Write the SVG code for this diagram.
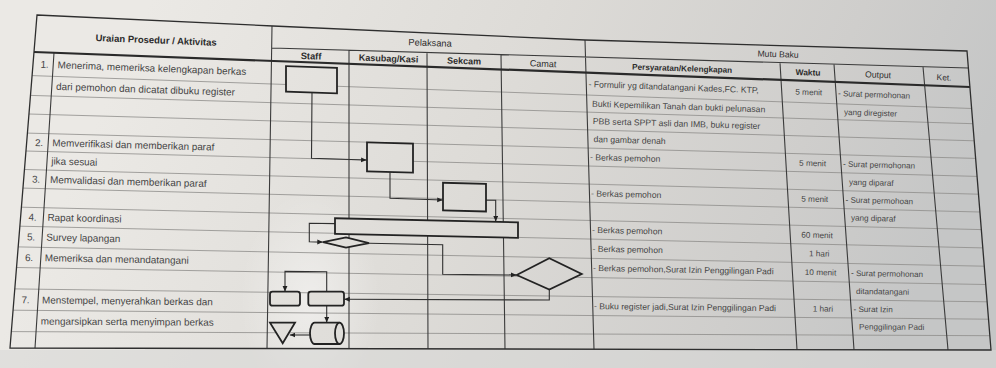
<svg xmlns="http://www.w3.org/2000/svg" width="996" height="368" viewBox="0 0 996 368">
<defs>
<linearGradient id="paper" gradientUnits="userSpaceOnUse" x1="150" y1="0" x2="900" y2="330">
<stop offset="0" stop-color="#ebe9e5"/>
<stop offset="0.45" stop-color="#dddbd7"/>
<stop offset="0.8" stop-color="#cfcecc"/>
<stop offset="1" stop-color="#c5c6c6"/>
</linearGradient>
<radialGradient id="glare" cx="0.5" cy="0.5" r="0.5">
<stop offset="0" stop-color="#ffffff" stop-opacity="0.45"/>
<stop offset="1" stop-color="#ffffff" stop-opacity="0"/>
</radialGradient>
<marker id="ah" viewBox="0 0 8 8" refX="8" refY="4" markerWidth="5.5" markerHeight="5.5" markerUnits="userSpaceOnUse" orient="auto">
<path d="M0,0.5 L8,4 L0,7.5 z" fill="#222"/>
</marker>
<style>
.grid{fill:none;stroke:#8e8d8a;stroke-width:0.8}
.col{fill:none;stroke:#3b3b3b;stroke-width:1.1}
.border{fill:none;stroke:#2e2e2e;stroke-width:1.3}
.thick{fill:none;stroke:#2a2a2a;stroke-width:2.2}
.node{fill:url(#paper);stroke:#232323;stroke-width:1.8}
.conn{fill:none;stroke:#303030;stroke-width:1.1;marker-end:url(#ah)}
text{font-family:"Liberation Sans",Arial,sans-serif;fill:#454545}
.h{fill:#2c2c2c}
.b{font-weight:bold}
.m{text-anchor:middle}
.l{font-size:9.9px}
.r{font-size:8.6px}
.w{font-size:8.2px;text-anchor:middle}
.o{font-size:8.1px}
</style>
</defs>

<g id="background">
<rect x="0" y="0" width="996" height="368" fill="url(#paper)"/>
<ellipse cx="310" cy="300" rx="70" ry="110" fill="url(#glare)"/>
<rect x="0" y="350" width="996" height="18" fill="#d9d9d7" opacity="0.6"/>
</g>

<g id="table">
<path class="grid" d="M32,75.6 L972,108.5 M30.5,95.4 L972.8,123.7 M29,114 L974.3,140.8 M27.4,133.1 L975.6,158.4 M26,151 L977,176.4 M24.5,169.5 L978.5,194.2 M23,188.1 L980,212 M21.4,207.2 L981.4,229.6 M19.9,226.2 L982.8,247.9 M18.2,246.9 L984.3,266.2 M16.5,267.5 L985.8,284.5 M14.8,288.9 L987.2,301.8 M13.1,310.2 L988.5,319.2 M11.3,331.6 L989.9,335.7"/>
<path class="col" d="M54,52.7 L35,348.1 M272,26 L267,348.5 M349,50.2 L349,348.7 M427,52.5 L428,348.8 M501,54.6 L505,349 M585,40 L594,349.2 M780,62.6 L797,349.6 M834,64.2 L854,349.7 M923,66.7 L948,349.9 M272,48 L968.4,68"/>
<path class="thick" d="M34,52 L970,87"/>
<path class="border" d="M37,15 L273,26 L585,40 L967,51 L991,350 L10,348 Z"/>
</g>

<g id="table-text">
<text class="h b m" x="156" y="43.4" font-size="9.5" transform="rotate(2.3 156 43.4)">Uraian Prosedur / Aktivitas</text>
<text class="h m" x="430" y="46" font-size="9.3" transform="rotate(1.9 430 46)">Pelaksana</text>
<text class="h b m" x="311" y="59.3" font-size="9.3" transform="rotate(1.9 311 59.3)">Staff</text>
<text class="h b m" x="388.5" y="61.6" font-size="9" transform="rotate(1.9 388.5 61.6)">Kasubag/Kasi</text>
<text class="h b m" x="464" y="64" font-size="9" transform="rotate(1.9 464 64)">Sekcam</text>
<text class="h m" x="543" y="66.8" font-size="9" transform="rotate(1.9 543 66.8)">Camat</text>
<text class="h m" x="778" y="57.2" font-size="8.6" transform="rotate(1.6 778 57.2)">Mutu Baku</text>
<text class="h b m" x="682" y="71.2" font-size="8.2" transform="rotate(1.9 682 71.2)">Persyaratan/Kelengkapan</text>
<text class="h b m" x="808" y="75.3" font-size="8.4" transform="rotate(1.9 808 75.3)">Waktu</text>
<text class="h m" x="878" y="77.8" font-size="8.6" transform="rotate(1.9 878 77.8)">Output</text>
<text class="h m" x="944" y="80.3" font-size="8.3" transform="rotate(1.9 944 80.3)">Ket.</text>

<text class="l m" x="44.5" y="67.8" transform="rotate(2.08 44.5 67.8)">1.</text>
<text class="l m" x="39" y="146" transform="rotate(1.53 39 146)">2.</text>
<text class="l m" x="36" y="182.7" transform="rotate(1.46 36 182.7)">3.</text>
<text class="l m" x="32.5" y="220.6" transform="rotate(1.31 32.5 220.6)">4.</text>
<text class="l m" x="31" y="240.4" transform="rotate(1.22 31 240.4)">5.</text>
<text class="l m" x="29" y="261" transform="rotate(1.08 29 261)">6.</text>
<text class="l m" x="25.5" y="303.3" transform="rotate(0.65 25.5 303.3)">7.</text>

<text class="l" x="57.5" y="68.2" transform="rotate(2.08 57.5 68.2)">Menerima, memeriksa kelengkapan berkas</text>
<text class="l" x="56" y="89.8" transform="rotate(1.86 56 89.8)">dari pemohon dan dicatat dibuku register</text>
<text class="l" x="52.3" y="146.2" transform="rotate(1.53 52.3 146.2)">Memverifikasi dan memberikan paraf</text>
<text class="l" x="51.2" y="164.5" transform="rotate(1.51 51.2 164.5)">jika sesuai</text>
<text class="l" x="50" y="183" transform="rotate(1.46 50 183)">Memvalidasi dan memberikan paraf</text>
<text class="l" x="47.4" y="220.8" transform="rotate(1.31 47.4 220.8)">Rapat koordinasi</text>
<text class="l" x="46.2" y="240.6" transform="rotate(1.22 46.2 240.6)">Survey lapangan</text>
<text class="l" x="44.8" y="261.2" transform="rotate(1.08 44.8 261.2)">Memeriksa dan menandatangani</text>
<text class="l" x="42" y="303.4" transform="rotate(0.65 42 303.4)">Menstempel, menyerahkan berkas dan</text>
<text class="l" x="40.8" y="324.6" transform="rotate(0.38 40.8 324.6)">mengarsipkan serta menyimpan berkas</text>

<text class="r" x="588.5" y="87" transform="rotate(2.08 588.5 87)">- Formulir yg ditandatangani Kades,FC. KTP,</text>
<text class="r" x="592" y="106.7" transform="rotate(1.86 592 106.7)">Bukti Kepemilikan Tanah dan bukti pelunasan</text>
<text class="r" x="592.8" y="124.1" transform="rotate(1.67 592.8 124.1)">PBB serta SPPT asli dan IMB, buku register</text>
<text class="r" x="593.5" y="142.1" transform="rotate(1.58 593.5 142.1)">dan gambar denah</text>
<text class="r" x="590" y="160.1" transform="rotate(1.53 590 160.1)">- Berkas pemohon</text>
<text class="r" x="591" y="196.3" transform="rotate(1.46 591 196.3)">- Berkas pemohon</text>
<text class="r" x="592" y="232.8" transform="rotate(1.31 592 232.8)">- Berkas pemohon</text>
<text class="r" x="592.5" y="251.7" transform="rotate(1.22 592.5 251.7)">- Berkas pemohon</text>
<text class="r" x="593" y="271" transform="rotate(1.08 593 271)">- Berkas pemohon,Surat Izin Penggilingan Padi</text>
<text class="r" x="594" y="309.1" transform="rotate(0.65 594 309.1)">- Buku register jadi,Surat Izin Penggilingan Padi</text>

<text class="w" x="808.7" y="94.9" transform="rotate(2.08 808.7 94.9)">5 menit</text>
<text class="w" x="812.5" y="166" transform="rotate(1.53 812.5 166)">5 menit</text>
<text class="w" x="814.7" y="201.8" transform="rotate(1.46 814.7 201.8)">5 menit</text>
<text class="w" x="817" y="237.9" transform="rotate(1.31 817 237.9)">60 menit</text>
<text class="w" x="819.2" y="256.4" transform="rotate(1.22 819.2 256.4)">1 hari</text>
<text class="w" x="820.5" y="275.2" transform="rotate(1.08 820.5 275.2)">10 menit</text>
<text class="w" x="822.9" y="311.6" transform="rotate(0.65 822.9 311.6)">1 hari</text>

<text class="o" x="838" y="96" transform="rotate(2.08 838 96)">- Surat permohonan</text>
<text class="o" x="844" y="114.8" transform="rotate(1.86 844 114.8)">yang diregister</text>
<text class="o" x="843" y="166.7" transform="rotate(1.53 843 166.7)">- Surat permohonan</text>
<text class="o" x="849" y="184.8" transform="rotate(1.51 849 184.8)">yang diparaf</text>
<text class="o" x="845.5" y="202.6" transform="rotate(1.46 845.5 202.6)">- Surat permohoan</text>
<text class="o" x="851" y="220.5" transform="rotate(1.39 851 220.5)">yang diparaf</text>
<text class="o" x="851" y="275.8" transform="rotate(1.08 851 275.8)">- Surat permohonan</text>
<text class="o" x="856" y="294" transform="rotate(0.88 856 294)">ditandatangani</text>
<text class="o" x="853.5" y="311.9" transform="rotate(0.65 853.5 311.9)">- Surat Izin</text>
<text class="o" x="859" y="329.5" transform="rotate(0.38 859 329.5)">Penggilingan Padi</text>
</g>

<g id="connectors">
<path class="conn" d="M312,92.5 L311.5,158.3 L366.6,160"/>
<path class="conn" d="M390,172.3 L390,198.3 L442.7,200"/>
<path class="conn" d="M486,200.3 L495.7,200.3 L495.7,221.6"/>
<path class="conn" d="M335,223.6 L309.3,223.3 L309.3,241.8 L322.8,242.1"/>
<path class="conn" d="M369,243.2 L442.7,244.7 L442.7,274.2 L516.4,275"/>
<path class="conn" d="M549.3,289.5 L549.3,300 L344.3,299.2"/>
<path class="conn" d="M326.7,291.7 L326.7,271.7 L285,271.4 L285,291.5"/>
<path class="conn" d="M326.7,305.7 L326.7,322.5"/>
<path class="conn" d="M310,335 L289.8,335"/>
</g>

<g id="node-staff-terima">
<rect class="node" x="286" y="67" width="51" height="25.5" transform="matrix(1 0.034 0 1 0 -10.59)"/>
</g>
<g id="node-kasubag-verifikasi">
<rect class="node" x="367" y="143" width="46" height="29" transform="matrix(1 0.027 0 1 0 -10.53)"/>
</g>
<g id="node-sekcam-validasi">
<rect class="node" x="443" y="183.3" width="43" height="27.7" transform="matrix(1 0.025 0 1 0 -11.61)"/>
</g>
<g id="node-rapat-koordinasi">
<rect class="node" x="335" y="220.3" width="183" height="15.5" transform="matrix(1 0.022 0 1 0 -9.38)"/>
</g>
<g id="node-survey">
<polygon class="node" points="323,242.2 346,237.3 369,243.2 346,247.6"/>
</g>
<g id="node-camat-tandatangan">
<polygon class="node" points="516.7,275 549.3,258.3 581.7,274 549.3,289.5"/>
</g>
<g id="node-stempel">
<rect class="node" x="270" y="291.7" width="30" height="14" rx="2.5"/>
</g>
<g id="node-serahkan">
<rect class="node" x="308.3" y="291.7" width="35.7" height="14" rx="2.5"/>
</g>
<g id="node-simpan">
<path class="node" d="M314.5,322.7 L339.5,322.7 A4.5,10.65 0 0 1 339.5,344 L314.5,344 A4.5,10.65 0 0 1 314.5,322.7 Z"/>
<path class="node" d="M339.5,322.7 A4.5,10.65 0 0 0 339.5,344" style="fill:none"/>
</g>
<g id="node-arsip">
<polygon class="node" points="270,322.7 295,322.7 282.7,343.3"/>
</g>
</svg>
